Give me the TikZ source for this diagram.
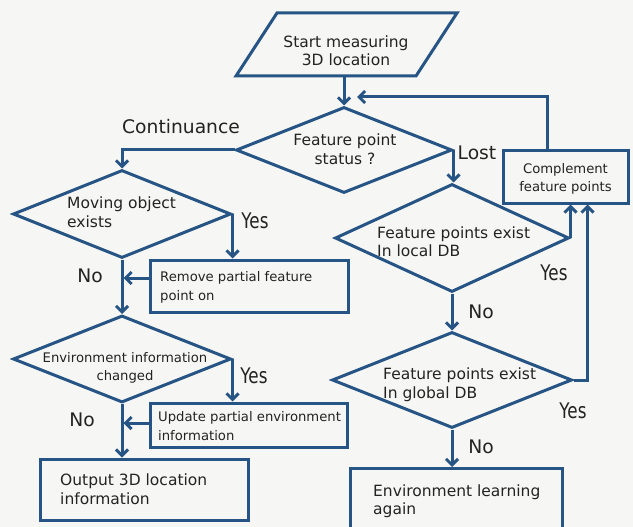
\documentclass[tikz,border=0pt]{standalone}
\usepackage{graphicx}
\usepackage{fontspec}
\setmainfont{DejaVu Sans}
\usetikzlibrary{shapes.geometric,arrows.meta,calc}
\definecolor{fc}{RGB}{38,84,132}
\definecolor{bg}{RGB}{246,246,244}
\definecolor{tx}{RGB}{35,35,35}
\newcommand{\yeslab}{\scalebox{0.78}[1]{\fontsize{21.5}{22}\selectfont Yes}}
\begin{document}
\begin{tikzpicture}[x=1pt,y=-1pt,
 dia/.style={draw=fc, diamond, inner sep=0pt, line width=3pt},
 box/.style={draw=fc, rectangle, inner sep=0pt, line width=3pt},
 txt/.style={text=tx, font=\fontsize{15.5}{18.5}\selectfont, align=left, inner sep=0pt},
 stxt/.style={text=tx, font=\fontsize{13.2}{18.5}\selectfont, align=left, inner sep=0pt},
 lab/.style={text=tx, font=\fontsize{18.7}{20}\selectfont, inner sep=0pt},
 arr/.style={draw=fc, line width=3pt, -{Straight Barb[length=6pt,width=12pt]}},
 ln/.style={draw=fc, line width=3pt, line join=miter},
]
\useasboundingbox (0,0) rectangle (633,527);
\clip (0,0) rectangle (633,527);
\fill[bg] (0,0) rectangle (633,527);

% start
\draw[ln] (277,13) -- (457,13) -- (416,76) -- (236,76) -- cycle;
\node[txt, align=center] (start) at (346,50.5) {Start measuring\\3D location};
\coordinate (startb) at (344,76);

% shapes
\node[dia, minimum width=216pt, minimum height=86pt] (status) at (344,150) {};
\node[txt, align=center] (statust) at (345,149) {Feature point\\status ?};
\node[dia, minimum width=218pt, minimum height=88pt] (moving) at (122,214) {};
\node[txt, anchor=west] (movingt) at (67,212) {Moving object\\exists};
\node[box, minimum width=198pt, minimum height=52pt] (remove) at (249,286) {};
\node[stxt, anchor=west] (removet) at (160,287.5) {Remove partial feature\\point on};
\node[dia, minimum width=218pt, minimum height=87pt] (envd) at (122,359) {};
\node[stxt, align=center] (envdt) at (125,368) {Environment information\\changed};
\node[box, minimum width=197pt, minimum height=44pt] (update) at (248.5,425) {};
\node[stxt, anchor=west] (updatet) at (158,426) {Update partial environment\\information};
\node[box, minimum width=208pt, minimum height=61pt] (output) at (144,489.5) {};
\node[txt, anchor=west] (outputt) at (60,489) {Output 3D location\\information};
\node[dia, minimum width=234pt, minimum height=108pt] (local) at (452,238) {};
\node[txt, anchor=west] (localt) at (377,241.5) {Feature points exist\\In local DB};
\node[dia, minimum width=240pt, minimum height=96pt] (global) at (452,380) {};
\node[txt, anchor=west] (globalt) at (383,384.5) {Feature points exist\\In global DB};
\node[box, minimum width=125pt, minimum height=52pt] (comp) at (565.5,177) {};
\node[stxt, align=center] (compt) at (565.5,179) {Complement\\feature points};
\node[box, minimum width=212pt, minimum height=90pt, anchor=north] (envl) at (456,467) {};
\node[txt, anchor=west] (envlt) at (373,501) {Environment learning\\again};

% connectors
\draw[arr] (startb) -- (status.north);
\draw[arr] (status.west) -| (moving.north);
\node[lab] (cont) at (181,127) {Continuance};
\draw[arr] (moving.east) -- (moving.east |- remove.north);
\node[lab] (yes1) at (255,221) {\yeslab};
\draw[arr] ([yshift=8pt]remove.west) -- ++(-25,0);
\draw[arr] (moving.south) -- (envd.north);
\node[lab] (no1) at (90,276) {No};
\draw[arr] (envd.east) -- (envd.east |- update.north);
\node[lab] (yes2) at (254,376) {\yeslab};
\draw[arr] ([yshift=2pt]update.west) -- ++(-25,0);
\draw[arr] (envd.south) -- (envd.south |- output.north);
\node[lab] (no2) at (82,420) {No};
\draw[arr] (status.east) -- (status.east |- local.north);
\node[lab] (lost) at (477,153) {Lost};
\draw[arr] (local.east) -- (local.east |- comp.south);
\node[lab] (yes3) at (554,273) {\yeslab};
\draw[arr] (local.south) -- (global.north);
\node[lab] (no3) at (481,312) {No};
\draw[arr] (global.east) -| ([xshift=22pt]comp.south);
\node[lab] (yes4) at (573,411) {\yeslab};
\draw[arr] (global.south) -- (global.south |- envl.north);
\node[lab] (no4) at (481,447) {No};
\coordinate (loopend) at (357,97);
\draw[arr] ([xshift=-18pt]comp.north) |- (loopend);
\end{tikzpicture}
\end{document}
